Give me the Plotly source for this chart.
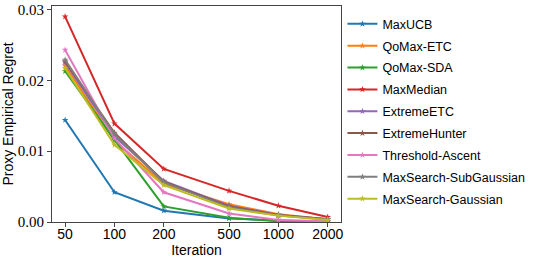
import plotly.graph_objects as go

iterations = [50, 100, 200, 500, 1000, 2000]
tick_labels = ["50", "100", "200", "500", "1000", "2000"]

max_ucb = [0.0144, 0.0042, 0.0016, 0.0005, 0.0002, 0.00005]
qomax_etc = [0.0221, 0.0115, 0.0054, 0.0025, 0.0011, 0.0004]
qomax_sda = [0.0213, 0.0116, 0.0022, 0.0006, 0.0001, 0.00003]
max_median = [0.0290, 0.0139, 0.0075, 0.0044, 0.0023, 0.0007]
extreme_etc = [0.0225, 0.0121, 0.0058, 0.0023, 0.0010, 0.0004]
extreme_hunter = [0.0227, 0.0126, 0.0057, 0.0022, 0.0010, 0.0004]
threshold_ascent = [0.0243, 0.0118, 0.0042, 0.0012, 0.0003, 0.0001]
maxsearch_subg = [0.0229, 0.0124, 0.0056, 0.0021, 0.0009, 0.0004]
maxsearch_g = [0.0217, 0.0109, 0.0052, 0.0019, 0.0009, 0.0003]

series = [
    ("MaxUCB", max_ucb, "#1f77b4"),
    ("QoMax-ETC", qomax_etc, "#ff7f0e"),
    ("QoMax-SDA", qomax_sda, "#2ca02c"),
    ("MaxMedian", max_median, "#d62728"),
    ("ExtremeETC", extreme_etc, "#9467bd"),
    ("ExtremeHunter", extreme_hunter, "#8c564b"),
    ("Threshold-Ascent", threshold_ascent, "#e377c2"),
    ("MaxSearch-SubGaussian", maxsearch_subg, "#7f7f7f"),
    ("MaxSearch-Gaussian", maxsearch_g, "#bcbd22"),
]

fig = go.Figure()
for name, vals, color in series:
    fig.add_trace(go.Scatter(
        x=iterations, y=vals, name=name, legendgroup=name, mode="lines+markers",
        line=dict(color=color, width=2),
        marker=dict(symbol="star", size=5, color=color),
    ))

sans = "Liberation Sans, DejaVu Sans, sans-serif"
serif = "Liberation Serif, DejaVu Serif, serif"

fig.update_layout(
    width=541, height=262,
    margin=dict(l=52, r=200, t=6, b=40),
    paper_bgcolor="white", plot_bgcolor="white",
    font=dict(family=sans, size=14, color="black"),
    showlegend=True,
    legend=dict(x=1.005, y=0.985, xanchor="left", yanchor="top",
                font=dict(family=sans, size=12.5), tracegroupgap=2.6,
                bgcolor="rgba(0,0,0,0)"),
    xaxis=dict(
        type="log", range=[1.619, 3.382], automargin=False,
        tickvals=iterations, ticktext=tick_labels,
        showgrid=False, zeroline=False,
        showline=True, linecolor="#444", linewidth=1, mirror=True,
        ticks="outside", ticklen=4, tickcolor="#444",
        ticklabelstandoff=-5,
        tickfont=dict(family=sans, size=14),
        title=dict(text="Iteration", font=dict(family=sans, size=14), standoff=0),
    ),
    yaxis=dict(
        range=[0, 0.0305], automargin=False,
        tickvals=[0, 0.01, 0.02, 0.03], ticktext=["0.00", "0.01", "0.02", "0.03"],
        showgrid=False, zeroline=False,
        showline=True, linecolor="#444", linewidth=1, mirror=True,
        ticks="outside", ticklen=4, tickcolor="#444",
        tickfont=dict(family=serif, size=15),
        title=dict(text="Proxy Empirical Regret", font=dict(family=sans, size=14), standoff=1),
    ),
)

fig.write_html("out.html", config={"displayModeBar": False},
               post_script="document.body.style.margin='0';")
